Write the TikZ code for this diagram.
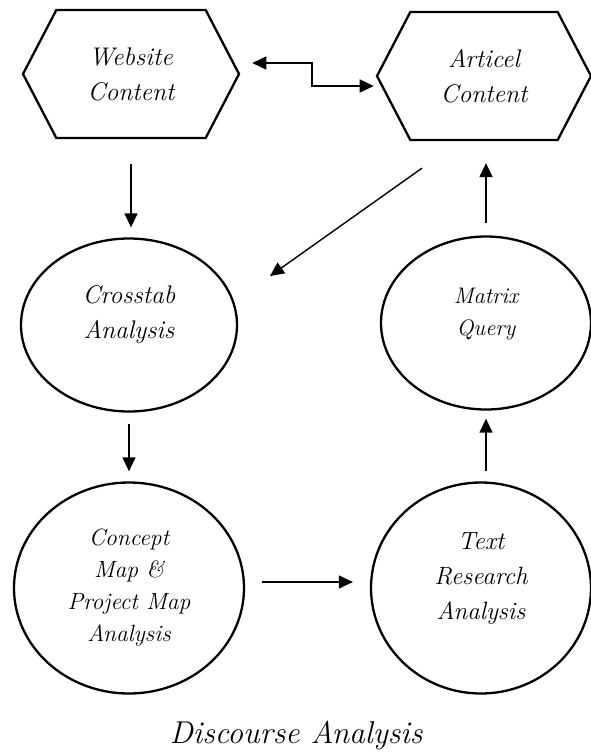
\documentclass[tikz,border=0pt]{standalone}
\usepackage{fontspec}
\usetikzlibrary{positioning, arrows.meta, shapes.symbols, shapes.geometric}

\begin{document}
\begin{tikzpicture}[x=1pt, y=-1pt,
    hexbox/.style={draw, line width=2.3pt, signal, signal to=west and east, signal pointer angle=125, minimum width=216pt, minimum height=128pt, inner sep=0pt, align=center, font=\fontsize{25.5}{35}\selectfont\itshape},
    oval/.style={draw, line width=2.3pt, ellipse, inner sep=0pt, align=center},
    arr/.style={-{Triangle[length=14pt, width=13pt]}, line width=1.4pt},
    arrboth/.style={{Triangle[length=14pt, width=13pt]}-{Triangle[length=14pt, width=13pt]}, line width=1.4pt}]
    \useasboundingbox (0,0) rectangle (591,752);

    % Sources
    \node (web) at (131,74) [hexbox] {Website\\Content};
    \node (art) at (484,76) [hexbox, minimum width=214pt] {Articel\\Content};

    % Analysis steps
    \node (cross) at (129,325) [oval, minimum width=216pt, minimum height=173pt, font=\fontsize{25.5}{35}\selectfont\itshape] {Crosstab\\Analysis\\[-10pt]\mbox{}};
    \node (mat) at (486,323) [oval, minimum width=210pt, minimum height=173pt, font=\fontsize{22.5}{32}\selectfont\itshape] {Matrix\\Query\\[-10pt]\mbox{}};
    \node (con) at (129,588) [oval, minimum width=230pt, minimum height=211pt, font=\fontsize{23.5}{32}\selectfont\itshape] {Concept\\Map \&\\Project Map\\Analysis};
    \node (txt) at (481,588) [oval, minimum width=220pt, minimum height=211pt, font=\fontsize{25}{35}\selectfont\itshape] {Text\\Research\\Analysis\\[-11pt]\mbox{}};

    % Connectors
    \coordinate (webout) at ([xshift=12pt, yshift=11pt]web.east);
    \coordinate (artin) at ([xshift=-2pt, yshift=-10pt]art.west);
    \coordinate (bend) at (312,0);
    \draw[arrboth] (webout) -| (bend |- artin) -- (artin);
    \draw[arr, shorten <=25pt, shorten >=10pt] (web.south) -- (web.south |- cross.north);
    \draw[arr] ([shift={(-62pt,-27pt)}]art.south) -- ([shift={(141pt,49pt)}]cross.center);
    \draw[arr, shorten <=12pt, shorten >=22pt] (mat.north) -- (mat.north |- art.south);
    \draw[arr, shorten <=11pt, shorten >=10pt] (cross.south) -- (cross.south |- con.north);
    \draw[arr, shorten <=10pt, shorten >=8pt] (mat.south |- txt.north) -- (mat.south);
    \draw[arr, shorten <=17pt, shorten >=17pt] ([yshift=6pt]con.east) -- ([yshift=6pt]con.east -| txt.west);

    % Title
    \node (title) at (296,735) [font=\fontsize{31.5}{35}\selectfont\itshape] {Discourse Analysis};
\end{tikzpicture}
\end{document}
